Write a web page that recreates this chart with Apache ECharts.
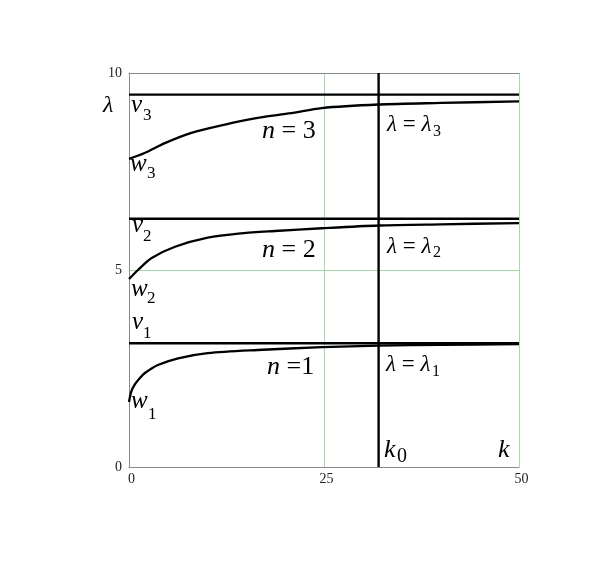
<!DOCTYPE html>
<html>
<head>
<meta charset="utf-8">
<script src="https://cdn.jsdelivr.net/npm/echarts@6/dist/echarts.min.js"></script>
<style>
html,body{margin:0;padding:0;background:#fff;}
#c{width:602px;height:563px;}
</style>
</head>
<body>
<div id="c"></div>
<script>
// ---- data ----
const k1 = [0, 0.3, 0.73, 1.37, 2.0, 3.7, 6.3, 10.1, 16.5, 24.7, 32, 40, 50];
const lam1 = [1.65, 1.92, 2.09, 2.25, 2.38, 2.59, 2.76, 2.89, 2.97, 3.04, 3.08, 3.10, 3.12];
const k2 = [0, 1.15, 2.86, 5.9, 10.1, 14.4, 18.7, 24.7, 32, 40, 50];
const lam2 = [4.77, 5.00, 5.30, 5.59, 5.82, 5.93, 5.99, 6.06, 6.13, 6.16, 6.19];
const k3 = [0, 2.0, 4.6, 8.0, 12.3, 16.5, 20.8, 24.7, 32, 40, 50];
const lam3 = [7.82, 7.97, 8.22, 8.48, 8.69, 8.86, 8.98, 9.11, 9.20, 9.24, 9.28];
const vLevels = [3.14, 6.30, 9.45];
const kRange = [0, 50];
const lamRange = [0, 10];
const k0 = 32;

const SERIF = "'Liberation Serif','DejaVu Serif',serif";
const pairs = (xs, ys) => xs.map((x, i) => [x, ys[i]]);

const chart = echarts.init(document.getElementById('c'), null, {renderer: 'canvas'});

const curveStyle = {color: '#000', width: 2.3};
const series = [];
[[k1, lam1], [k2, lam2], [k3, lam3]].forEach(([xs, ys]) => {
  series.push({
    type: 'line', data: pairs(xs, ys), symbol: 'none', smooth: 0.3,
    lineStyle: curveStyle, z: 4, silent: true
  });
});
vLevels.forEach(v => {
  series.push({
    type: 'line', data: [[kRange[0], v], [kRange[1], v]], symbol: 'none',
    lineStyle: {color: '#000', width: 2.4}, z: 4, silent: true
  });
});
series.push({
  type: 'line', data: [[k0, lamRange[0]], [k0, lamRange[1]]], symbol: 'none',
  lineStyle: {color: '#000', width: 2.4}, z: 4, silent: true
});

const gray = '#8a8a8a';
const green = '#a6d9a6';
const labelStyle = {fontFamily: SERIF, fontSize: 14, color: '#222'};

function t(text, x, y, size, italic) {
  return {type: 'text', z: 10, silent: true, style: {
    text: text, x: x, y: y, fill: '#000', align: 'left', verticalAlign: 'middle',
    font: (italic ? 'italic ' : '') + size + 'px ' + SERIF
  }};
}
function rich(text, x, y, size) {
  return {type: 'text', z: 10, silent: true, style: {
    text: text, x: x, y: y, fill: '#000', align: 'left', verticalAlign: 'middle',
    rich: {
      i: {fontStyle: 'italic', fontSize: size, fontFamily: SERIF, fill: '#000'},
      r: {fontSize: size, fontFamily: SERIF, fill: '#000'}
    }
  }};
}

const graphics = [
  t('λ', 103, 106, 24, true),
  t('v', 131, 105, 25, true), t('3', 143, 116, 17, false),
  t('w', 130, 164, 25, true), t('3', 147, 173.5, 17, false),
  t('v', 132, 225, 25, true), t('2', 143, 236.5, 17, false),
  t('w', 131, 289.5, 25, true), t('2', 147, 298.5, 17, false),
  t('v', 132, 322.5, 25, true), t('1', 143, 334, 17, false),
  t('w', 131, 401, 25, true), t('1', 148, 414.5, 17, false),
  rich('{i|n}{r| = 3}', 262, 131, 26),
  rich('{i|n}{r| = 2}', 262, 250, 26),
  rich('{i|n}{r| =1}', 267, 367.5, 26),
  rich('{i|λ}{r| = }{i|λ}', 387, 125, 23), t('3', 433, 132, 16, false),
  rich('{i|λ}{r| = }{i|λ}', 387, 246.5, 23), t('2', 433, 253, 16, false),
  rich('{i|λ}{r| = }{i|λ}', 386, 365, 23), t('1', 432, 372, 16, false),
  t('k', 384, 450.5, 26, true), t('0', 397, 456.5, 20, false),
  t('k', 498, 450.5, 26, true)
];

const option = {
  animation: false,
  backgroundColor: '#fff',
  grid: {left: 129, right: 83, top: 73, bottom: 96, containLabel: false},
  xAxis: [
    {type: 'value', min: kRange[0], max: kRange[1], interval: 25, z: 3,
      axisLine: {show: true, lineStyle: {color: gray, width: 1}},
      axisTick: {show: false}, splitLine: {show: false},
      axisLabel: Object.assign({margin: 5, padding: [0, 0, 0, 5]}, labelStyle)},
    {type: 'value', min: kRange[0], max: kRange[1], interval: 25, position: 'bottom', z: 0,
      axisLine: {show: false}, axisTick: {show: false}, axisLabel: {show: false},
      splitLine: {show: true, lineStyle: {color: green, width: 1}}},
    {type: 'value', min: kRange[0], max: kRange[1], interval: 25, position: 'top', z: 3,
      axisLine: {show: true, lineStyle: {color: gray, width: 1}},
      axisTick: {show: false}, axisLabel: {show: false}, splitLine: {show: false}}
  ],
  yAxis: [
    {type: 'value', min: lamRange[0], max: lamRange[1], interval: 5, z: 3,
      axisLine: {show: true, lineStyle: {color: gray, width: 1}},
      axisTick: {show: false}, splitLine: {show: false},
      axisLabel: Object.assign({margin: 7}, labelStyle)},
    {type: 'value', min: lamRange[0], max: lamRange[1], interval: 5, position: 'left', z: 0,
      axisLine: {show: false}, axisTick: {show: false}, axisLabel: {show: false},
      splitLine: {show: true, lineStyle: {color: green, width: 1}}}
  ],
  series: series,
  graphic: graphics
};
chart.setOption(option);
</script>
</body>
</html>
